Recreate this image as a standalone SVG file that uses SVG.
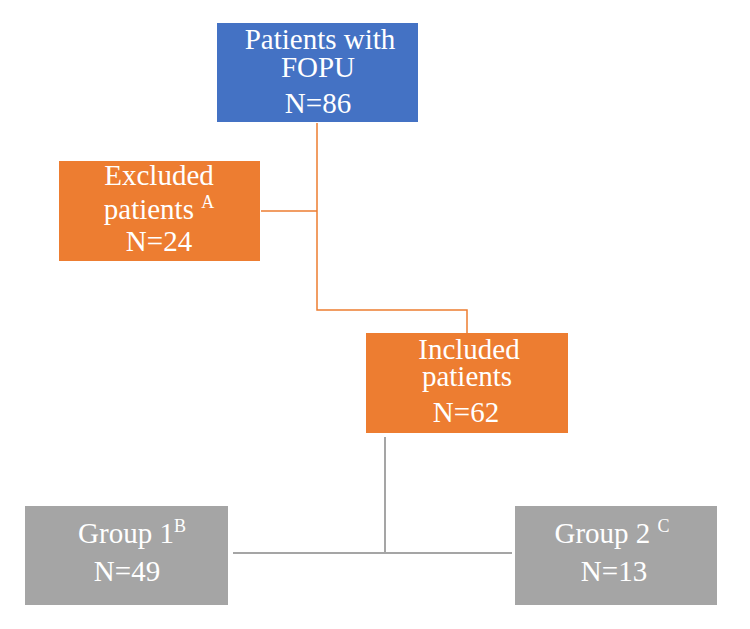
<svg xmlns="http://www.w3.org/2000/svg" width="750" height="629" viewBox="0 0 750 629">
<style>
.t{font-family:"Liberation Serif","Times New Roman",serif;font-size:29px;fill:#fff;text-anchor:middle}
.s{font-size:18px}
.blue{fill:#4472C4}
.orange{fill:#ED7D31}
.gray{fill:#A5A5A5}
.co{stroke:#ED7D31;stroke-width:1.5;fill:none}
.cg{stroke:#A5A5A5;stroke-width:2;fill:none}
</style>
<rect width="750" height="629" fill="#fff"/>
<g id="connectors">
<path class="co" d="M317 123 V310 H467 V333"/>
<path class="co" d="M261 211 H317"/>
<path class="cg" d="M385 437 V553"/>
<path class="cg" d="M233 553 H512"/>
</g>
<g id="n-fopu">
<rect class="blue" x="217" y="23" width="201" height="99"/>
<text class="t" x="320" y="49">Patients with</text>
<text class="t" x="318" y="77">FOPU</text>
<text class="t" x="318" y="113">N=86</text>
</g>
<g id="n-excluded">
<rect class="orange" x="59" y="161" width="201" height="100"/>
<text class="t" x="159" y="185">Excluded</text>
<text class="t" x="159" y="219">patients <tspan class="s" dy="-11">A</tspan></text>
<text class="t" x="159" y="251">N=24</text>
</g>
<g id="n-included">
<rect class="orange" x="366" y="333" width="202" height="100"/>
<text class="t" x="469" y="359">Included</text>
<text class="t" x="467" y="386">patients</text>
<text class="t" x="466" y="422">N=62</text>
</g>
<g id="n-group1">
<rect class="gray" x="25" y="506" width="203" height="99"/>
<text class="t" x="132" y="543">Group 1<tspan class="s" dy="-11">B</tspan></text>
<text class="t" x="127" y="581">N=49</text>
</g>
<g id="n-group2">
<rect class="gray" x="515" y="506" width="202" height="99"/>
<text class="t" x="612" y="543">Group 2 <tspan class="s" dy="-11">C</tspan></text>
<text class="t" x="614" y="581">N=13</text>
</g>
</svg>
